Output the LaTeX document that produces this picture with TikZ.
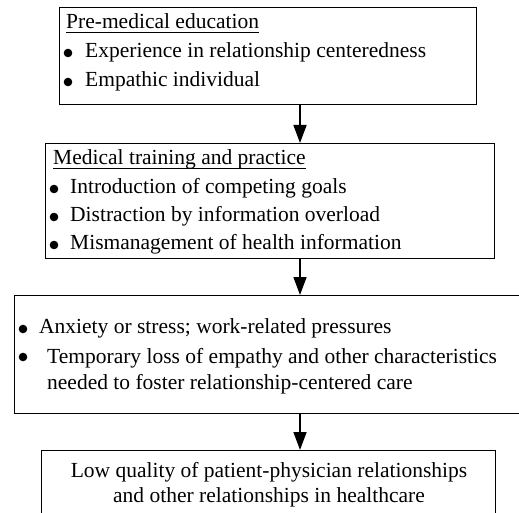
\documentclass[tikz,border=0pt]{standalone}
\usepackage{fontspec}
\setmainfont{Liberation Serif}
\usetikzlibrary{arrows.meta}
\begin{document}
\begin{tikzpicture}[x=1pt,y=1pt,
        box/.style={draw, line width=1.2pt, anchor=north west, inner sep=0},
        txt/.style={anchor=base west, inner sep=0, font=\fontsize{21.5}{29}\selectfont},
        arr/.style={line width=1.6pt, -{Triangle[length=18pt,width=13pt]}}]
    \useasboundingbox (0,0) rectangle (519,512);
    \clip (0,0) rectangle (519,512);
    % the four stages
    \node [box, minimum width=417pt, minimum height=97pt] (pre) at (59,505) {};
    \node [box, minimum width=449pt, minimum height=115pt] (med) at (45,369) {};
    \node [box, minimum width=530pt, minimum height=118pt] (loss) at (14,217) {};
    \node [box, minimum width=454pt, minimum height=80pt] (low) at (41,62) {};
    % arrows between them
    \coordinate (axis) at (300,0);
    \draw [arr] (axis |- pre.south) -- (axis |- med.north);
    \draw [arr] (axis |- med.south) -- (axis |- loss.north);
    \draw [arr] (axis |- loss.south) -- (axis |- low.north);
    % pre-medical education
    \node [txt] (pretitle) at (66,483) {Pre-medical education};
    \draw [line width=0.8pt] ([yshift=-3pt]pretitle.base west) -- ([yshift=-3pt]pretitle.base east);
    \fill (68,459) circle (4.3); \node [txt] (pre1) at (85,454) {Experience in relationship centeredness};
    \fill (68,430) circle (4.3); \node [txt] (pre2) at (85,425) {Empathic individual};
    % medical training
    \node [txt] (medtitle) at (53,347) {Medical training and practice};
    \draw [line width=0.8pt] ([yshift=-3pt]medtitle.base west) -- ([yshift=-3pt]medtitle.base east);
    \fill (54,323) circle (4.3); \node [txt] (med1) at (70,318) {Introduction of competing goals};
    \fill (54,295) circle (4.3); \node [txt] (med2) at (70,290) {Distraction by information overload};
    \fill (54,267) circle (4.3); \node [txt] (med3) at (70,262) {Mismanagement of health information};
    % stress
    \fill (23,183) circle (4.3); \node [txt] (loss1) at (39,179) {Anxiety or stress; work-related pressures};
    \fill (23,155) circle (4.3); \node [txt] (loss2) at (47,149) {Temporary loss of empathy and other characteristics};
    \node [txt] (loss3) at (47,123) {needed to foster relationship-centered care};
    % outcome
    \node [txt, anchor=base] (low1) at (269,35) {Low quality of patient-physician relationships};
    \node [txt, anchor=base] (low2) at (269,10) {and other relationships in healthcare};
\end{tikzpicture}
\end{document}
